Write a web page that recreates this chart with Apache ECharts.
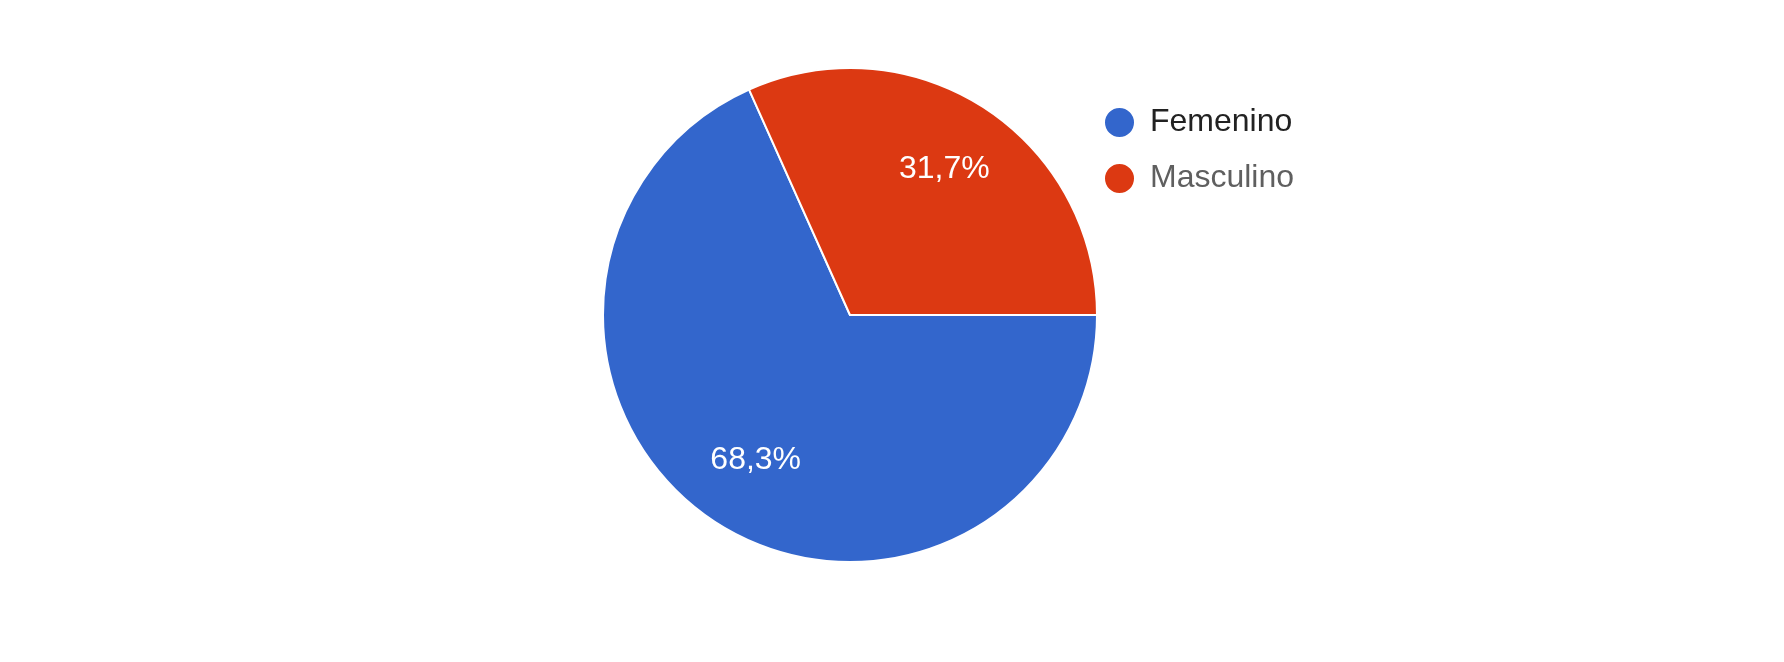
<!DOCTYPE html>
<html>
<head>
<meta charset="utf-8">
<script src="https://cdn.jsdelivr.net/npm/echarts@6/dist/echarts.min.js"></script>
<style>
  html, body { margin: 0; padding: 0; background: #fff; }
  #chart { width: 1784px; height: 662px; }
</style>
</head>
<body>
<div id="chart"></div>
<script>
var categories = ['Femenino', 'Masculino'];
var percents = [68.3, 31.7];
var colors = ['#3366cc', '#dc3912'];
var legendTextColors = ['#222222', '#5f5f5f'];

var el = document.getElementById('chart');
var myChart = echarts.init(el);

var pieData = categories.map(function (name, i) {
    return { name: name, value: percents[i], itemStyle: { color: colors[i] } };
});

var labelData = categories.map(function (name, i) {
    return { name: name, value: percents[i] };
});

var legendData = categories.map(function (name, i) {
    return { name: name, textStyle: { color: legendTextColors[i] } };
});

var center = [850, 315];
var radius = 247;

var option = {
    animation: false,
    legend: {
        orient: 'vertical',
        left: 1098,
        top: 101,
        icon: 'circle',
        itemWidth: 31,
        itemHeight: 31,
        itemGap: 23,
        selectedMode: false,
        data: legendData,
        textStyle: {
            fontFamily: 'Arial, "Liberation Sans", sans-serif',
            fontSize: 32,
            padding: [0, 0, 0, 10]
        }
    },
    series: [{
        type: 'pie',
        center: center,
        radius: [0, radius],
        startAngle: 0,
        clockwise: true,
        avoidLabelOverlap: false,
        label: { show: false },
        labelLine: { show: false },
        itemStyle: {
            borderColor: '#ffffff',
            borderWidth: 2
        },
        emphasis: { disabled: true },
        data: pieData
    }, {
        // only carries the percentage labels, at about 70% of the radius
        type: 'pie',
        silent: true,
        legendHoverLink: false,
        center: center,
        radius: [radius * 0.38, radius],
        startAngle: 0,
        clockwise: true,
        avoidLabelOverlap: false,
        itemStyle: { color: 'transparent', borderWidth: 0 },
        label: {
            show: true,
            position: 'inside',
            color: '#ffffff',
            fontFamily: 'Arial, "Liberation Sans", sans-serif',
            fontSize: 32,
            formatter: function (p) {
                return p.value.toFixed(1).replace('.', ',') + '%';
            }
        },
        labelLine: { show: false },
        emphasis: { disabled: true },
        data: labelData
    }]
};
myChart.setOption(option);
</script>
</body>
</html>
